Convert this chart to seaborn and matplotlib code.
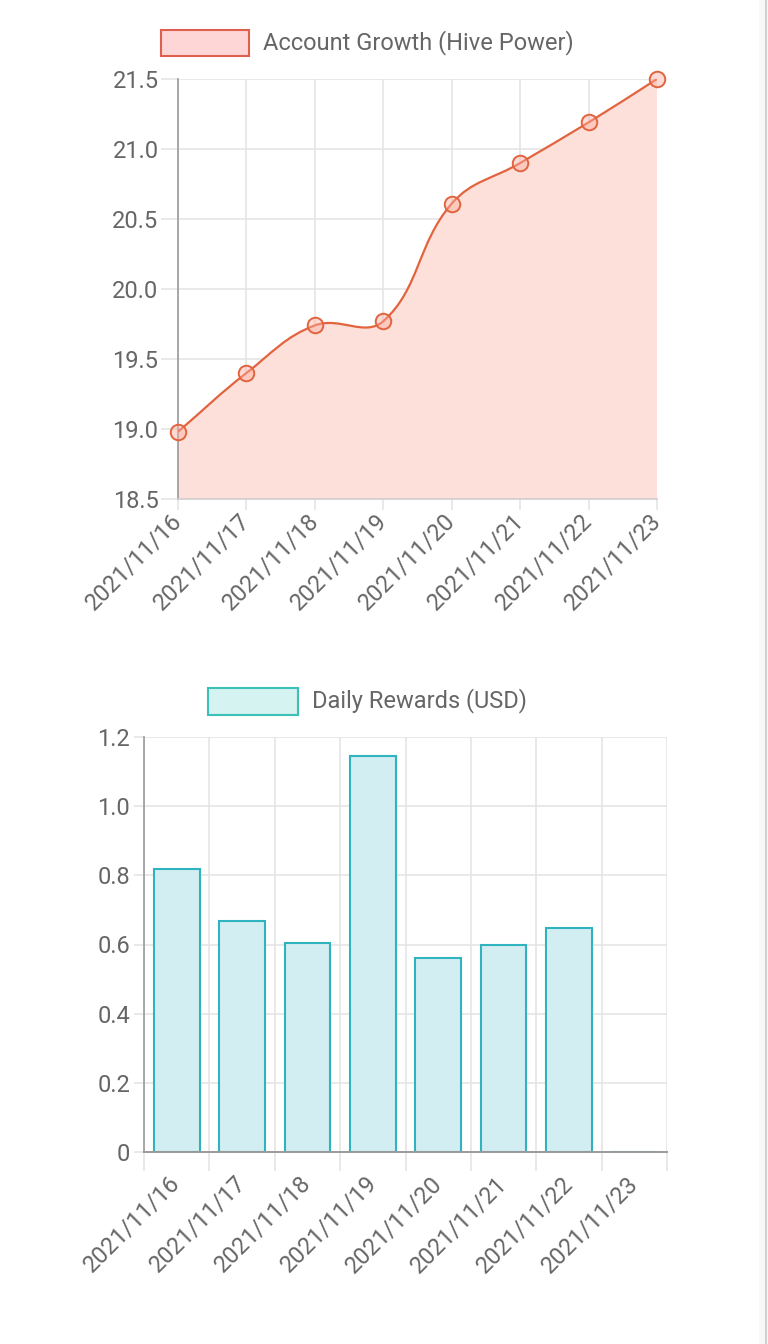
import numpy as np
import pandas as pd
import matplotlib
matplotlib.use("Agg")
import matplotlib.pyplot as plt
import seaborn as sns
from matplotlib.path import Path
from matplotlib.patches import PathPatch, Rectangle
from matplotlib.lines import Line2D

# ---------------- data ----------------
dates = ["2021/11/16", "2021/11/17", "2021/11/18", "2021/11/19",
         "2021/11/20", "2021/11/21", "2021/11/22", "2021/11/23"]
hive_power = [18.98, 19.40, 19.74, 19.77, 20.61, 20.90, 21.19, 21.50]
daily_rewards = [0.818, 0.668, 0.604, 1.145, 0.561, 0.599, 0.648, 0.0]
growth_ticks = [18.5, 19.0, 19.5, 20.0, 20.5, 21.0, 21.5]
growth_tick_labels = ["18.5", "19.0", "19.5", "20.0", "20.5", "21.0", "21.5"]
reward_ticks = [0, 0.2, 0.4, 0.6, 0.8, 1.0, 1.2]
reward_tick_labels = ["0", "0.2", "0.4", "0.6", "0.8", "1.0", "1.2"]
growth_label = "Account Growth (Hive Power)"
rewards_label = "Daily Rewards (USD)"

# ---------------- style ----------------
sns.set_theme(style="white")
plt.rcParams["font.family"] = ["Roboto", "DejaVu Sans"]

TEXT = "#666666"
GRID = "#e3e3e3"
AXIS = "#9a9a9a"
LINE_C = "#e2643f"
AREA_C = "#fde0da"
MARK_FACE = (0.99, 0.68, 0.62, 0.45)
BAR_FACE = "#d3eef2"
BAR_EDGE = "#2fb3be"
FS = 17

W, H = 768, 1344
fig = plt.figure(figsize=(W / 100, H / 100), dpi=100)
fig.patch.set_facecolor("white")


def rect(l, t, r, b):
    return [l / W, 1 - b / H, (r - l) / W, (b - t) / H]


ax1 = fig.add_axes(rect(178, 79, 657, 499))
ax2 = fig.add_axes(rect(144, 737, 667, 1152))

# ---------------- top: smooth line (chart.js style tension 0.4) ----------------
xs = np.arange(len(dates), dtype=float)
ys = np.array(hive_power, dtype=float)
sx, sy = 68.4, 140.0  # pixel scale for distance computation
t = 0.4
prev_cp, next_cp = [], []
n = len(xs)
for i in range(n):
    p0 = (xs[max(i - 1, 0)], ys[max(i - 1, 0)])
    p1 = (xs[i], ys[i])
    p2 = (xs[min(i + 1, n - 1)], ys[min(i + 1, n - 1)])
    d01 = np.hypot((p1[0] - p0[0]) * sx, (p1[1] - p0[1]) * sy)
    d12 = np.hypot((p2[0] - p1[0]) * sx, (p2[1] - p1[1]) * sy)
    tot = d01 + d12 if (d01 + d12) > 0 else 1
    fa = t * d01 / tot
    fb = t * d12 / tot
    prev_cp.append((p1[0] - fa * (p2[0] - p0[0]), p1[1] - fa * (p2[1] - p0[1])))
    next_cp.append((p1[0] + fb * (p2[0] - p0[0]), p1[1] + fb * (p2[1] - p0[1])))

verts = [(xs[0], ys[0])]
codes = [Path.MOVETO]
for i in range(n - 1):
    verts += [next_cp[i], prev_cp[i + 1], (xs[i + 1], ys[i + 1])]
    codes += [Path.CURVE4] * 3

line_path = Path(verts, codes)
fill_path = Path(verts + [(xs[-1], 18.5), (xs[0], 18.5), (xs[0], ys[0])],
                 codes + [Path.LINETO, Path.LINETO, Path.CLOSEPOLY])
ax1.add_patch(PathPatch(fill_path, facecolor=AREA_C, edgecolor="none", zorder=1))
ax1.add_patch(PathPatch(line_path, facecolor="none", edgecolor=LINE_C, lw=1.6, zorder=3))

sns.scatterplot(x=xs, y=ys, ax=ax1, s=125, color=MARK_FACE, edgecolor=LINE_C,
                linewidth=1.4, zorder=5, clip_on=False, legend=False)

ax1.set_xlim(0, 7)
ax1.set_ylim(18.5, 21.5)
ax1.set_yticks(growth_ticks)
ax1.set_yticklabels(growth_tick_labels)
ax1.set_xticks(xs)
ax1.set_xticklabels(dates, rotation=45, ha="right", va="center", rotation_mode="anchor")
ax1.grid(True, color=GRID, lw=1.1, zorder=0)
ax1.set_axisbelow(True)
for s in ["top", "right"]:
    ax1.spines[s].set_visible(False)
ax1.spines["left"].set_color(AXIS)
ax1.spines["left"].set_linewidth(1.2)
ax1.spines["bottom"].set_color("#cfcfcf")
ax1.spines["bottom"].set_linewidth(1.2)
ax1.tick_params(axis="y", length=12, width=1.1, color=GRID, labelcolor=TEXT,
                labelsize=FS, pad=2, left=True)
ax1.tick_params(axis="x", length=8, width=1.1, color=GRID, labelcolor=TEXT,
                labelsize=FS, pad=5, bottom=True)
ax1.set_xlabel("")
ax1.set_ylabel("")

# ---------------- bottom: bars ----------------
df = pd.DataFrame({"date": dates, "reward": daily_rewards})
sns.barplot(data=df, x="date", y="reward", ax=ax2, width=0.7, color=BAR_FACE,
            saturation=1, edgecolor=BAR_EDGE, linewidth=1.5, zorder=2)
ax2.set_xlim(-0.5, 7.5)
ax2.set_ylim(0, 1.2)
ax2.set_yticks(reward_ticks)
ax2.set_yticklabels(reward_tick_labels)
ax2.set_xticks(np.arange(len(dates)))
ax2.set_xticklabels(dates, rotation=45, ha="right", va="center", rotation_mode="anchor")
ax2.set_xticks(np.arange(len(dates) + 1) - 0.5, minor=True)
ax2.grid(False)
ax2.grid(True, axis="y", which="major", color=GRID, lw=1.1, zorder=0)
ax2.grid(True, axis="x", which="minor", color=GRID, lw=1.1, zorder=0)
ax2.set_axisbelow(True)
for s in ["top", "right"]:
    ax2.spines[s].set_visible(False)
ax2.spines["left"].set_color(AXIS)
ax2.spines["left"].set_linewidth(1.2)
ax2.spines["bottom"].set_color(AXIS)
ax2.spines["bottom"].set_linewidth(1.4)
ax2.tick_params(axis="y", length=7, width=1.1, color=GRID, labelcolor=TEXT,
                labelsize=FS, pad=3, left=True)
ax2.tick_params(axis="x", which="major", length=0, labelcolor=TEXT,
                labelsize=FS, pad=20)
ax2.tick_params(axis="x", which="minor", length=14, width=1.1, color=GRID, bottom=True)
ax2.set_xlabel("")
ax2.set_ylabel("")

# ---------------- legends ----------------
fig.add_artist(Rectangle((161 / W, 1 - 56 / H), 88 / W, 26 / H, transform=fig.transFigure,
                         facecolor="#ffd6d6", edgecolor="#e0604f", lw=1.5))
fig.text(263 / W, 1 - 43 / H, growth_label, ha="left", va="center",
         fontsize=FS, color=TEXT)
fig.add_artist(Rectangle((208 / W, 1 - 715 / H), 90 / W, 27 / H, transform=fig.transFigure,
                         facecolor="#d5f3f0", edgecolor="#3cc0b8", lw=1.5))
fig.text(312 / W, 1 - 701 / H, rewards_label, ha="left", va="center",
         fontsize=FS, color=TEXT)

# right edge strip
fig.add_artist(Rectangle((759 / W, 0), 9 / W, 1, transform=fig.transFigure,
                         facecolor="#f8f8f8", edgecolor="none"))
fig.add_artist(Line2D([766 / W, 766 / W], [0, 1], transform=fig.transFigure,
                      color="#d0d0d0", lw=1.5))

fig.savefig("out.png", dpi=100)
